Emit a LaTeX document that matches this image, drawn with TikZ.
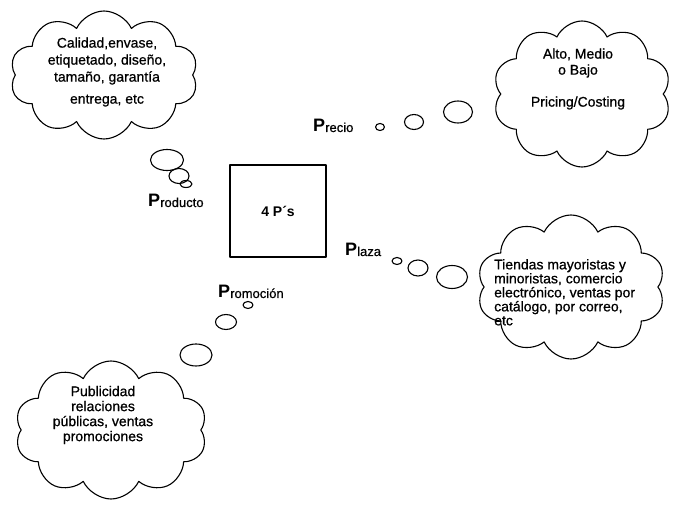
\documentclass[tikz,border=0pt]{standalone}
\usepackage{fontspec}
\setmainfont{Liberation Sans}[UprightFeatures={FakeBold=0.8}]
\usetikzlibrary{shapes.symbols,shapes.geometric}
\newcommand\Pmayor{{\fontsize{18}{18}\selectfont\bfseries P}}
\begin{document}
\begin{tikzpicture}[x=1pt,y=-1pt,line join=round,line cap=round,
		nube/.style={draw,line width=1.1pt,cloud,cloud puffs=10,cloud puff arc=130,cloud ignores aspect,inner sep=0pt},
		burbuja/.style={draw,line width=1.1pt,ellipse,inner sep=0pt},
		texto/.style={font=\fontsize{14}{16}\selectfont,align=center,inner sep=0pt},
		etiqueta/.style={font=\fontsize{13}{13}\selectfont,anchor=base west,inner sep=0pt}]
	\useasboundingbox (0,0) rectangle (673,505);
	% centro
	\node[draw,line width=1.1pt,minimum width=96,minimum height=92,font=\fontsize{14}{14}\selectfont\bfseries] (caja) at (278,211) {4 P´s};
	% nubes
	\node[nube,minimum width=188,minimum height=128] (nubeProducto) at (104,75) {};
	\node[nube,minimum width=178,minimum height=146] (nubePrecio) at (582,94) {};
	\node[nube,minimum width=188,minimum height=144] (nubePlaza) at (571,287) {};
	\node[nube,minimum width=192,minimum height=138] (nubePromocion) at (111,430) {};
	\node[texto,font=\fontsize{14}{17}\selectfont] (txtProducto) at (107,72)
		{Calidad,envase,\\etiquetado, diseño,\\tamaño, garantía\\[5pt]entrega, etc};
	\node[texto] (txtPrecio) at (578,79) {Alto, Medio\\o Bajo\\[16pt]Pricing/Costing};
	\node[texto,align=left,anchor=north west,font=\fontsize{14}{14}\selectfont] (txtPlaza) at (494,259)
		{Tiendas mayoristas y\\minoristas, comercio\\electrónico, ventas por\\catálogo, por correo,\\etc};
	\node[texto,font=\fontsize{14}{15}\selectfont] (txtPromocion) at (103,415)
		{Publicidad\\relaciones\\públicas, ventas\\promociones};
	% etiquetas
	\node[etiqueta] (lProducto) at (148,207) {\Pmayor roducto};
	\node[etiqueta] (lPrecio) at (313,132) {\Pmayor recio};
	\node[etiqueta] (lPlaza) at (345,256) {\Pmayor laza};
	\node[etiqueta] (lPromocion) at (218,298) {\Pmayor romoción};
	% burbujas
	\foreach \x/\y/\w/\h [count=\i] in {167/160/33/21,179/176/20/15,186/184/12/7}
		\node[burbuja,minimum width=\w,minimum height=\h] (bProd\i) at (\x,\y) {};
	\foreach \x/\y/\w/\h [count=\i] in {380/127/9/7,414/122/19/15,458/112/29/22}
		\node[burbuja,minimum width=\w,minimum height=\h] (bPrec\i) at (\x,\y) {};
	\foreach \x/\y/\w/\h [count=\i] in {397/261/10/7,418/268/20/16,452/277/31/23}
		\node[burbuja,minimum width=\w,minimum height=\h] (bPlaz\i) at (\x,\y) {};
	\foreach \x/\y/\w/\h [count=\i] in {248/305/10/7,226/322/21/15,196/355/32/22}
		\node[burbuja,minimum width=\w,minimum height=\h] (bProm\i) at (\x,\y) {};
\end{tikzpicture}
\end{document}
